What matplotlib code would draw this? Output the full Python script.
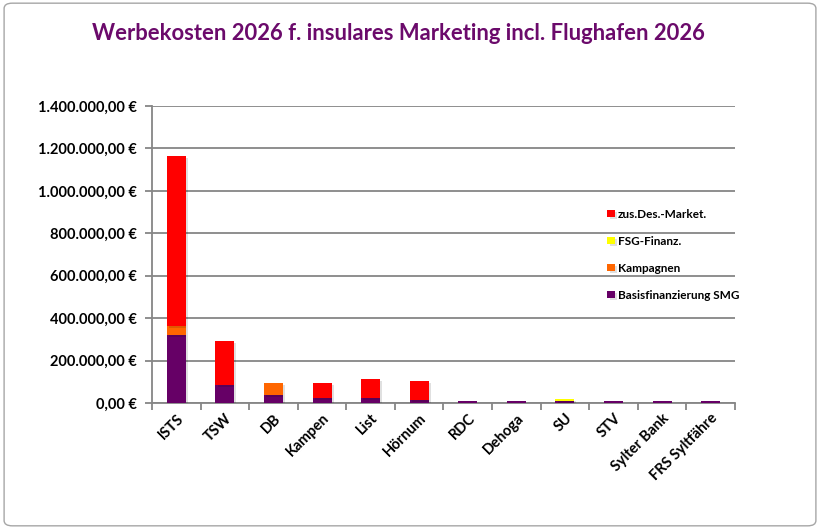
import matplotlib
matplotlib.use("Agg")
import matplotlib.pyplot as plt
import matplotlib.patheffects as pe
from matplotlib.patches import FancyBboxPatch
from matplotlib.ticker import FuncFormatter, MultipleLocator, FixedLocator
import numpy as np

plt.rcParams['font.family'] = ['Lato', 'DejaVu Sans']

categories = ["ISTS", "TSW", "DB", "Kampen", "List", "Hörnum", "RDC", "Dehoga",
              "SU", "STV", "Sylter Bank", "FRS Syltfähre"]
basis = [320000, 85000, 38000, 24000, 24000, 14000, 9000, 9000, 9000, 9000, 9000, 9000]
kampagnen = [45000, 0, 56000, 0, 0, 0, 0, 0, 0, 0, 0, 0]
fsg = [0, 0, 0, 0, 0, 0, 0, 0, 8000, 0, 0, 0]
zus = [800000, 207000, 0, 70000, 89000, 90000, 0, 0, 0, 0, 0, 0]

series = [
    ("Basisfinanzierung SMG", basis, "#660066"),
    ("Kampagnen", kampagnen, "#FF6600"),
    ("FSG-Finanz.", fsg, "#FFFF00"),
    ("zus.Des.-Market.", zus, "#FF0000"),
]

fig = plt.figure(figsize=(8.2, 5.29), dpi=100, facecolor="white")
border = FancyBboxPatch((0.005, 0.006), 0.99, 0.988,
                        boxstyle="round,pad=0,rounding_size=0.01",
                        transform=fig.transFigure, facecolor="none",
                        edgecolor="#A6A6A6", linewidth=1.0, zorder=0)
fig.patches.append(border)

ax = fig.add_axes([0.1854, 0.2382, 0.7109, 0.5614])
ax.set_facecolor("none")

x = np.arange(len(categories))
bottom = np.zeros(len(categories))
handles = {}
for name, vals, col in series:
    v = np.array(vals, dtype=float)
    bars = ax.bar(x, v, width=0.39, bottom=bottom, color=col, zorder=3,
                  label=name, linewidth=0)
    for b in bars:
        b.set_path_effects([pe.SimplePatchShadow(offset=(1.5, -1.5), alpha=0.12,
                                                 shadow_rgbFace="black"),
                            pe.Normal()])
    handles[name] = bars
    bottom += v

ax.set_xlim(-0.5, len(categories) - 0.5)
ax.set_ylim(0, 1400000)
ax.yaxis.set_major_locator(MultipleLocator(200000))

def euro(v, pos):
    s = f"{v:,.2f}".replace(",", "X").replace(".", ",").replace("X", ".")
    return s + " €"

ax.yaxis.set_major_formatter(FuncFormatter(euro))
ax.grid(axis="y", color="#868686", linewidth=1.3, zorder=0)
ax.set_axisbelow(True)

for s in ["top", "right"]:
    ax.spines[s].set_visible(False)
for s in ["left", "bottom"]:
    ax.spines[s].set_color("#868686")
    ax.spines[s].set_linewidth(1.3)

ax.set_xticks(x)
ax.set_xticklabels(categories, rotation=45, ha="right", rotation_mode="anchor",
                   fontsize=10.5, fontweight="bold")
ax.tick_params(axis="x", which="major", length=0, pad=6)
ax.xaxis.set_minor_locator(FixedLocator(np.arange(-0.5, len(categories), 1.0)))
ax.tick_params(axis="x", which="minor", length=5, color="#868686", width=1.3)
ax.tick_params(axis="y", length=5, color="#868686", width=1.3, labelsize=10.5, pad=6)
for lab in ax.get_yticklabels():
    lab.set_fontweight("bold")

order = ["zus.Des.-Market.", "FSG-Finanz.", "Kampagnen", "Basisfinanzierung SMG"]
leg = ax.legend([handles[n] for n in order], order, loc="upper left",
                bbox_to_anchor=(0.763, 0.69), frameon=False,
                handlelength=0.6, handleheight=0.6, handletextpad=0.3,
                labelspacing=1.35, prop={"weight": "bold", "size": 8.5})

fig.text(0.486, 0.937, "Werbekosten 2026 f. insulares Marketing incl. Flughafen 2026",
         ha="center", va="center", fontsize=15.8, fontweight="bold", color="#6B0A6B")

fig.savefig("out.png", dpi=100)
